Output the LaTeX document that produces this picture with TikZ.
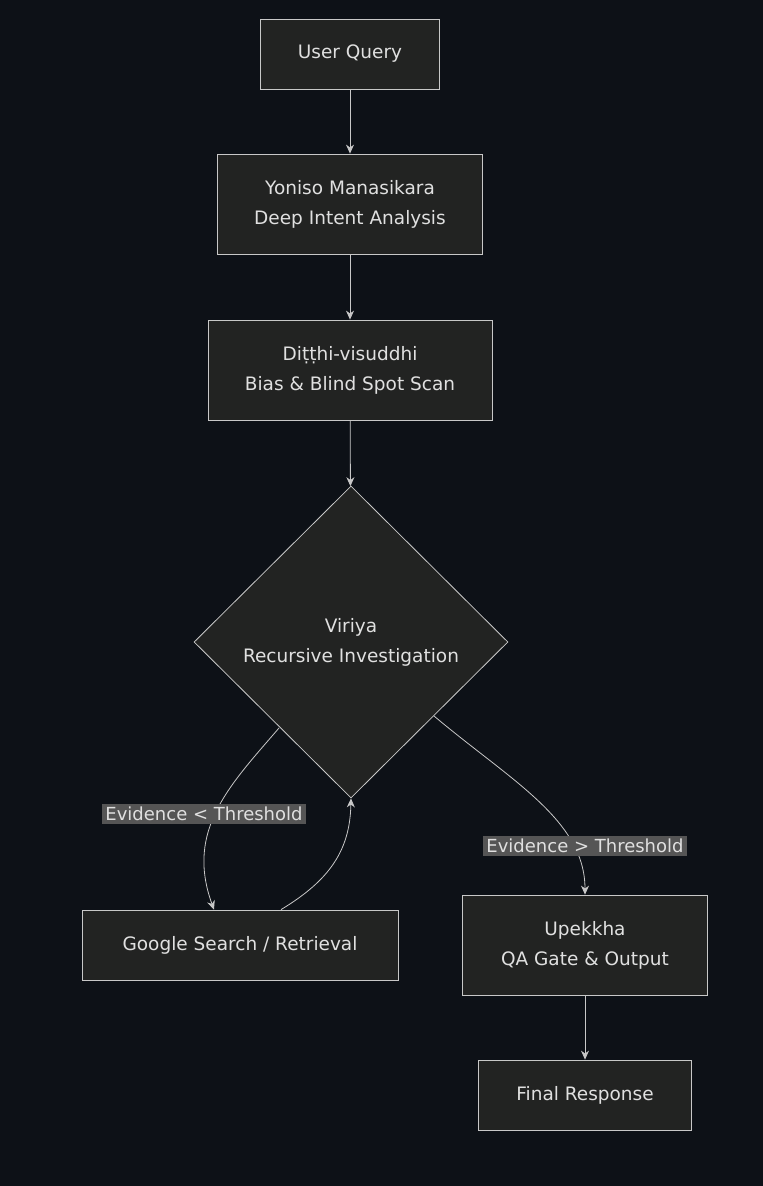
\documentclass[tikz,border=0pt]{standalone}
\usepackage{fontspec}
\setmainfont{DejaVu Sans}
\usetikzlibrary{shapes.geometric,arrows.meta}
\definecolor{bgdark}{HTML}{0D1117}
\definecolor{boxfill}{HTML}{222322}
\definecolor{boxline}{HTML}{C8C8C8}
\definecolor{txt}{HTML}{E0E0E0}
\definecolor{lblfill}{HTML}{555555}
\begin{document}
\begin{tikzpicture}[x=1pt,y=-1pt]
\tikzstyle{stepbox}=[draw=boxline, fill=boxfill, text=txt, align=center, inner sep=0pt, line width=0.8pt, font=\fontsize{18.5}{30}\selectfont]
\tikzstyle{decide}=[stepbox, diamond, aspect=1, minimum width=314pt, minimum height=312pt]
\tikzstyle{flow}=[draw=boxline, line width=0.8pt, -{Stealth[length=9pt,width=8pt]}]
\tikzstyle{edgelabel}=[fill=lblfill, text=txt, inner sep=3pt, font=\fontsize{18}{20}\selectfont]

% Background
\fill[bgdark] (0,0) rectangle (763,1186);
\useasboundingbox (0,0) rectangle (763,1186);

\node[stepbox, minimum width=179pt, minimum height=70pt] (query) at (350,54) {User Query};
\node[stepbox, minimum width=265pt, minimum height=100pt] (yoniso) at (350,204) {Yoniso Manasikara\\Deep Intent Analysis};
\node[stepbox, minimum width=284pt, minimum height=100pt] (ditthi) at (350,370) {Diṭṭhi-visuddhi\\Bias \& Blind Spot Scan};
\node[decide] (viriya) at (351,642) {Viriya\\Recursive Investigation};
\node[stepbox, minimum width=316pt, minimum height=70pt] (search) at (240,945) {Google Search / Retrieval};
\node[stepbox, minimum width=245pt, minimum height=100pt] (upekkha) at (585,945) {Upekkha\\QA Gate \& Output};
\node[stepbox, minimum width=213pt, minimum height=70pt] (final) at (585,1095) {Final Response};

\coordinate (low-left) at (279,728);
\coordinate (low-right) at (434,716);

\path[flow] (query) -- (yoniso);
\path[flow] (yoniso) -- (ditthi);
\path[flow] (ditthi) -- (viriya);
\path[flow] (low-left) .. controls (230,785) and (185,830) .. (214,910 |- search.north);
\path[flow] (281,910 |- search.north) .. controls (330,880) and (350,850) .. (viriya.south);
\path[flow] (low-right) .. controls (510,780) and (585,820) .. (585,895 |- upekkha.north);
\path[flow] (upekkha) -- (final);

\node[edgelabel] (lbl-less) at (204,814) {Evidence < Threshold};
\node[edgelabel] (lbl-more) at (585,846) {Evidence > Threshold};
\end{tikzpicture}
\end{document}
